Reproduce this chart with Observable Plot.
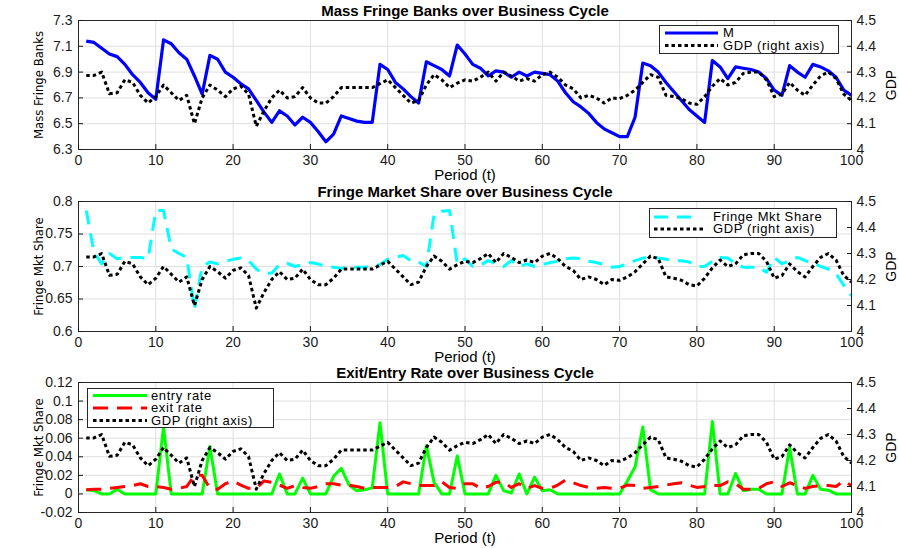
<!DOCTYPE html>
<html><head><meta charset="utf-8">
<script src="https://cdn.jsdelivr.net/npm/d3@7"></script>
<script src="https://cdn.jsdelivr.net/npm/@observablehq/plot@0.6"></script>
<style>
body{margin:0;background:#fff;}
#wrap{position:relative;width:899px;height:548px;font-family:"Liberation Sans",Arial,sans-serif;}
#wrap > svg{display:block;}
.legend{position:absolute;background:#fff;border:1px solid #262626;box-sizing:border-box;}
.legend svg{display:block;overflow:visible;}
</style></head><body><div id="wrap"></div>
<script>
// ---- data ----
const periods = d3.range(1, 101);
const xTicks = [0,10,20,30,40,50,60,70,80,90,100];
const gdpTicks = [4,4.1,4.2,4.3,4.4,4.5];

const massFringe = [
 7.14,7.13,7.085,7.04,7.02,6.96,6.88,6.82,6.74,6.69,
 7.15,7.12,7.05,7.0,6.87,6.73,7.03,7.0,6.9,6.86,
 6.81,6.77,6.68,6.59,6.51,6.60,6.56,6.49,6.55,6.51,
 6.44,6.36,6.42,6.56,6.54,6.52,6.51,6.51,6.96,6.92,
 6.82,6.77,6.71,6.66,6.98,6.95,6.92,6.87,7.11,7.04,
 6.96,6.93,6.87,6.91,6.90,6.86,6.90,6.87,6.90,6.89,
 6.88,6.83,6.74,6.67,6.63,6.58,6.51,6.46,6.43,6.40,
 6.40,6.55,6.97,6.95,6.90,6.82,6.75,6.68,6.61,6.56,
 6.51,6.99,6.94,6.85,6.94,6.93,6.92,6.90,6.85,6.76,
 6.72,6.95,6.90,6.86,6.96,6.94,6.91,6.86,6.76,6.72];

const gdp = [
 4.287,4.287,4.30,4.216,4.22,4.27,4.26,4.21,4.18,4.205,
 4.25,4.22,4.19,4.21,4.10,4.20,4.25,4.23,4.205,4.235,
 4.245,4.215,4.09,4.15,4.20,4.23,4.20,4.205,4.24,4.20,
 4.18,4.18,4.205,4.24,4.24,4.24,4.24,4.24,4.255,4.27,
 4.24,4.21,4.18,4.19,4.25,4.29,4.27,4.24,4.257,4.27,
 4.265,4.28,4.30,4.265,4.30,4.285,4.265,4.275,4.265,4.29,
 4.30,4.28,4.25,4.235,4.20,4.21,4.20,4.18,4.20,4.197,
 4.21,4.23,4.26,4.29,4.28,4.21,4.205,4.197,4.18,4.175,
 4.205,4.245,4.275,4.25,4.26,4.295,4.30,4.30,4.27,4.205,
 4.215,4.26,4.23,4.21,4.25,4.285,4.30,4.275,4.215,4.19];

const fringeShare = [
 0.786,0.722,0.704,0.72,0.712,0.714,0.714,0.714,0.712,0.786,
 0.786,0.727,0.72,0.714,0.635,0.70,0.707,0.704,0.708,0.711,
 0.713,0.709,0.696,0.689,0.69,0.703,0.705,0.70,0.703,0.706,
 0.704,0.70,0.699,0.697,0.699,0.699,0.699,0.70,0.703,0.711,
 0.714,0.717,0.709,0.707,0.70,0.78,0.785,0.786,0.704,0.712,
 0.70,0.702,0.709,0.704,0.70,0.709,0.70,0.704,0.70,0.703,
 0.706,0.708,0.712,0.713,0.712,0.708,0.706,0.703,0.699,0.70,
 0.704,0.709,0.713,0.714,0.713,0.711,0.709,0.709,0.707,0.70,
 0.70,0.708,0.714,0.713,0.704,0.699,0.699,0.699,0.691,0.714,
 0.704,0.709,0.714,0.709,0.706,0.70,0.696,0.689,0.671,0.655];

const entryRate = [
 0.0045,0.0035,0,0,0.005,0,0,0,0,0,
 0.072,0,0,0,0,0,0.051,0,0,0,
 0,0,0,0,0,0.0215,0,0,0.017,0,
 0,0,0.019,0.0275,0.0095,0.0035,0.0045,0.0065,0.0767,0,
 0,0,0,0,0.052,0.0125,0,0,0.041,0,
 0,0,0,0.02,0.0035,0.001,0.0215,0,0.018,0.0035,
 0.0045,0,0,0,0,0,0,0,0,0,
 0.014,0.029,0.072,0.0045,0,0,0,0,0,0,
 0,0.078,0,0,0.022,0.0035,0.005,0.005,0,0,
 0,0.05,0,0,0.02,0.005,0.004,0,0,0];

const exitRate = [
 0.0045,0.005,0.005,0.006,0.007,0.008,0.009,0.011,0.008,0.008,
 0.007,0.005,0.006,0.008,0.02,0.02,0.006,0.005,0.011,0.014,
 0.0095,0.006,0.006,0.014,0.0125,0.0095,0.006,0.009,0.007,0.006,
 0.008,0.011,0.011,0.0095,0.0095,0.008,0.006,0.007,0.007,0.007,
 0.008,0.013,0.011,0.009,0.009,0.009,0.013,0.007,0.006,0.011,
 0.011,0.006,0.008,0.0125,0.0125,0.007,0.011,0.006,0.009,0.006,
 0.006,0.0095,0.015,0.012,0.009,0.007,0.006,0.007,0.006,0.006,
 0.0095,0.009,0.006,0.007,0.008,0.0095,0.011,0.012,0.0095,0.007,
 0.008,0.009,0.009,0.013,0.011,0.005,0.005,0.006,0.011,0.013,
 0.008,0.012,0.009,0.006,0.008,0.009,0.009,0.008,0.014,0.009];

// ---- styles ----
const FONT = "Liberation Sans, Arial, Helvetica, sans-serif";
const NARROW = "Liberation Sans Narrow, DejaVu Sans Condensed, Arial Narrow, sans-serif";
const GRID = "#dfdfdf";
const DOT = "3.5,3";
const sM = {label:"M", values: massFringe, color:"#0000ff", width:3.2, dash:null};
const sShare = {label:"Fringe Mkt Share", values: fringeShare, color:"#00ffff", width:3, dash:"14,9"};
const sEntry = {label:"entry rate", values: entryRate, color:"#00ff00", width:3, dash:null};
const sExit = {label:"exit rate", values: exitRate, color:"#ff0000", width:3, dash:"15,9"};
const sGdp = {label:"GDP (right axis)", values: gdp, color:"#000000", width:3, dash:DOT, gdp:true};

const wrap = document.getElementById("wrap");

function panel(cfg) {
  const [a, b] = cfg.domain;
  const g0 = 4, g1 = 4.5;
  const toL = g => a + (g - g0) / (g1 - g0) * (b - a);
  const fromL = v => g0 + (v - a) / (b - a) * (g1 - g0);
  const fmt = d => String(+d.toFixed(3));
  const marks = [
    Plot.gridX(xTicks.filter(d => d > 0 && d < 100), {stroke: GRID, strokeOpacity: 1}),
    Plot.gridY(cfg.ticks.filter(d => d > a + 1e-9 && d < b - 1e-9), {stroke: GRID, strokeOpacity: 1})
  ];
  for (const s of cfg.series) {
    marks.push(Plot.line(periods, {
      x: d => d,
      y: (d, i) => s.gdp ? toL(s.values[i]) : s.values[i],
      stroke: s.color, strokeWidth: s.width,
      strokeDasharray: s.dash || undefined,
      strokeLinecap: "butt", strokeLinejoin: "round"
    }));
  }
  marks.push(
    Plot.frame({stroke: "#262626", strokeWidth: 1}),
    Plot.axisX(xTicks, {anchor: "bottom", tickSize: -5, tickPadding: 11, tickFormat: d => String(d), label: null, fontSize: 14}),
    Plot.axisY(cfg.ticks, {anchor: "left", tickSize: -5, tickPadding: 11, tickFormat: fmt, label: null, fontSize: 14}),
    Plot.axisY(gdpTicks.map(toL), {anchor: "right", tickSize: -5, tickPadding: 10, tickFormat: d => String(+fromL(d).toFixed(1)), label: null, fontSize: 14}),
    Plot.text([cfg.title], {text: d => d, frameAnchor: "top", lineAnchor: "middle", textAnchor: "middle", dy: -9, fontWeight: "bold", fontSize: 15, fill: "#000"}),
    Plot.text([cfg.ylabel], {text: d => d, frameAnchor: "left", textAnchor: "middle", lineAnchor: "middle", rotate: -90, dx: -40, fontSize: 13, fontFamily: NARROW, fill: "#000"}),
    Plot.text(["GDP"], {text: d => d, frameAnchor: "right", textAnchor: "middle", lineAnchor: "middle", rotate: -90, dx: 40, fontSize: 14, fill: "#000"}),
    Plot.text(["Period (t)"], {text: d => d, frameAnchor: "bottom", textAnchor: "middle", lineAnchor: "middle", dy: 26, fontSize: 15, fill: "#000"})
  );
  const chart = Plot.plot({
    width: 899, height: cfg.height,
    marginLeft: 78, marginRight: 48, marginTop: cfg.mt, marginBottom: cfg.mb,
    x: {domain: [0, 100]},
    y: {domain: [a, b]},
    style: {fontFamily: FONT, fontSize: "14px", color: "#1a1a1a", background: "#fff", overflow: "visible"},
    marks
  });
  wrap.appendChild(chart);
}

function legend(cfg) {
  const div = document.createElement("div");
  div.className = "legend";
  Object.assign(div.style, {left: cfg.left + "px", top: cfg.top + "px", width: cfg.width + "px", height: cfg.height + "px"});
  const svg = d3.create("svg").attr("width", cfg.width - 2).attr("height", cfg.height - 2);
  cfg.items.forEach((it, i) => {
    const y = cfg.rows[i];
    svg.append("line").attr("x1", cfg.x0).attr("x2", it.x1 || cfg.x1).attr("y1", y).attr("y2", y)
      .attr("stroke", it.s.color).attr("stroke-width", it.s.width)
      .attr("stroke-dasharray", it.s.dash || null);
    svg.append("text").attr("x", cfg.tx).attr("y", y).attr("dy", "0.34em")
      .attr("font-family", FONT).attr("font-size", 13).attr("letter-spacing", "0.6px")
      .attr("fill", "#000").text(it.s.label);
  });
  div.appendChild(svg.node());
  wrap.appendChild(div);
}

panel({height: 181, mt: 20, mb: 32, domain: [6.3, 7.3], ticks: [6.3,6.5,6.7,6.9,7.1,7.3],
  title: "Mass Fringe Banks over Business Cycle", ylabel: "Mass Fringe Banks", series: [sM, sGdp]});
panel({height: 181, mt: 20, mb: 31, domain: [0.6, 0.8], ticks: [0.6,0.65,0.7,0.75,0.8],
  title: "Fringe Market Share over Business Cycle", ylabel: "Fringe Mkt Share", series: [sShare, sGdp]});
panel({height: 186, mt: 20, mb: 36, domain: [-0.02, 0.12], ticks: [-0.02,0,0.02,0.04,0.06,0.08,0.1,0.12],
  title: "Exit/Entry Rate over Business Cycle", ylabel: "Fringe Mkt Share", series: [sEntry, sExit, sGdp]});

legend({left: 659, top: 25, width: 180, height: 29, rows: [7, 19.5], x0: 5, x1: 58, tx: 63,
  items: [{s: sM}, {s: sGdp}]});
legend({left: 649, top: 208, width: 188, height: 30, rows: [8, 20], x0: 4, x1: 54, tx: 63,
  items: [{s: sShare, x1: 48}, {s: sGdp}]});
legend({left: 87, top: 388, width: 187, height: 40, rows: [6.5, 19, 31.5], x0: 5, x1: 59, tx: 63,
  items: [{s: sEntry}, {s: sExit}, {s: sGdp}]});
</script></body></html>
